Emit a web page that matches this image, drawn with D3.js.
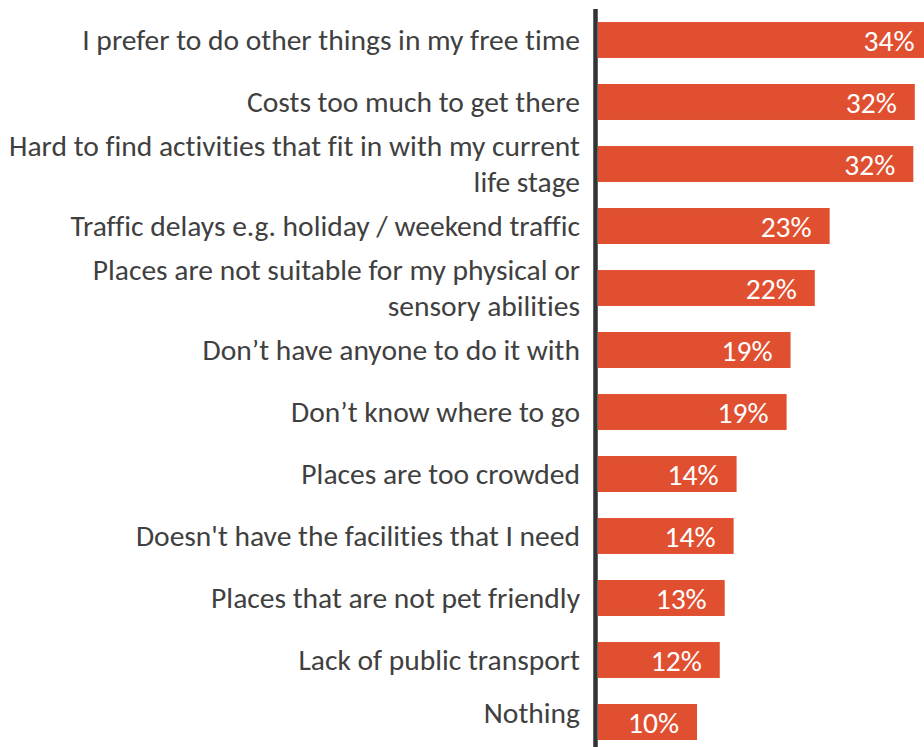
<!DOCTYPE html>
<html>
<head>
<meta charset="utf-8">
<script src="https://cdn.jsdelivr.net/npm/d3@7"></script>
<style>
html,body{margin:0;padding:0;background:#fff;}
svg{display:block;}
text{font-variant-ligatures:none;}
</style>
</head>
<body>
<svg id="chart" width="924" height="747"></svg>
<script>
const categories = [
  "I prefer to do other things in my free time",
  "Costs too much to get there",
  "Hard to find activities that fit in with my current\nlife stage",
  "Traffic delays e.g. holiday / weekend traffic",
  "Places are not suitable for my physical or\nsensory abilities",
  "Don\u2019t have anyone to do it with",
  "Don\u2019t know where to go",
  "Places are too crowded",
  "Doesn't have the facilities that I need",
  "Places that are not pet friendly",
  "Lack of public transport",
  "Nothing"
];
const values = [33.8, 32.0, 31.85, 23.4, 21.9, 19.45, 19.05, 14.0, 13.7, 12.8, 12.3, 10.0];

const W = 924, H = 747;
const svg = d3.select("#chart");
const fontFamily = "Carlito, Calibri, Lato, 'Open Sans', sans-serif";

// fit font size so label widths match the original on average
const refs = [[categories[0], 506], ["Hard to find activities that fit in with my current", 568],
              ["Doesn't have the facilities that I need", 441], ["Costs too much to get there", 332]];
let ratio = 0;
refs.forEach(([s, w]) => {
  const p = svg.append("text").attr("font-family", fontFamily).attr("font-size", 26)
    .style("font-variant-ligatures", "none").text(s);
  ratio += w / p.node().getComputedTextLength();
  p.remove();
});
ratio /= refs.length;
const fontSize = Math.max(18, Math.min(30, 26 * ratio));

const x = d3.scaleLinear().domain([0, 35]).range([598, 598 + 9.9 * 35]);
const y = d3.scaleBand().domain(categories).range([9, 753])
  .paddingInner(0.42).paddingOuter(0.21);

// bars
svg.append("g").selectAll("rect").data(values).join("rect")
  .attr("x", x(0))
  .attr("y", (d, i) => y(categories[i]))
  .attr("width", d => x(d) - x(0))
  .attr("height", y.bandwidth())
  .attr("fill", "#E14F31");

// value labels
svg.append("g").selectAll("text").data(values).join("text")
  .attr("x", d => x(d) - 18)
  .attr("y", (d, i) => y(categories[i]) + y.bandwidth() / 2 + 1)
  .attr("text-anchor", "end")
  .attr("dominant-baseline", "central")
  .attr("font-family", fontFamily)
  .attr("font-size", fontSize)
  .attr("fill", "#ffffff")
  .text(d => Math.round(d) + "%");

// category labels
const lineH = 36;
const lab = svg.append("g").selectAll("text").data(categories).join("text")
  .attr("text-anchor", "end")
  .attr("font-family", fontFamily)
  .attr("font-size", fontSize)
  .attr("fill", "#404040")
  .attr("dominant-baseline", "central");
lab.each(function(d) {
  const lines = d.split("\n");
  let cy = y(d) + y.bandwidth() / 2 - (lines.length - 1) * lineH / 2;
  cy = Math.min(cy, H - 34);
  const t = d3.select(this);
  lines.forEach((ln, j) => {
    t.append("tspan").attr("x", 580).attr("y", cy + j * lineH).text(ln);
  });
});

// vertical axis line
svg.append("line")
  .attr("x1", 595.5).attr("x2", 595.5)
  .attr("y1", 9).attr("y2", H)
  .attr("stroke", "#333333").attr("stroke-width", 4.5);
</script>
</body>
</html>
